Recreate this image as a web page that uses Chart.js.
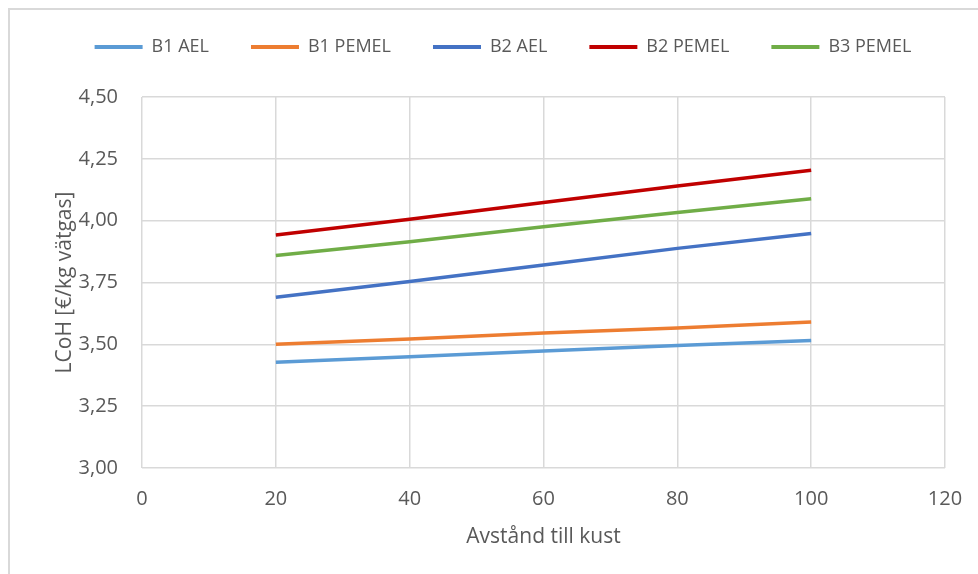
<!DOCTYPE html>
<html>
<head>
<meta charset="utf-8">
<script src="https://cdn.jsdelivr.net/npm/chart.js@4/dist/chart.umd.min.js"></script>
<style>
  html, body { margin: 0; padding: 0; background: #fff; }
  #wrap { position: relative; width: 978px; height: 574px; }
  #c { position: absolute; left: 0; top: 0; }
  #frame { position: absolute; left: 8px; top: 8px; right: 0; bottom: 0;
           border-left: 2px solid #d9d9d9; border-top: 2px solid #d9d9d9; pointer-events: none; }
</style>
</head>
<body>
<div id="wrap">
  <canvas id="c" width="978" height="574"></canvas>
  <div id="frame"></div>
</div>
<script>
const distances = [20, 40, 60, 80, 100];
const seriesNames = ["B1 AEL", "B1 PEMEL", "B2 AEL", "B2 PEMEL", "B3 PEMEL"];
const b1AEL   = [3.428, 3.450, 3.473, 3.495, 3.515];
const b1PEMEL = [3.500, 3.522, 3.546, 3.566, 3.590];
const b2AEL   = [3.690, 3.754, 3.821, 3.888, 3.948];
const b2PEMEL = [3.942, 4.006, 4.073, 4.140, 4.204];
const b3PEMEL = [3.859, 3.915, 3.975, 4.033, 4.089];
const xTicks = [0, 20, 40, 60, 80, 100, 120];
const yTicks = [3.00, 3.25, 3.50, 3.75, 4.00, 4.25, 4.50];
const colors = ["#5B9BD5", "#ED7D31", "#4472C4", "#C00000", "#70AD47"];
const xTitle = "Avstånd till kust";
const yTitle = "LCoH [€/kg vätgas]";

const allSeries = [b1AEL, b1PEMEL, b2AEL, b2PEMEL, b3PEMEL];
const datasets = allSeries.map((vals, i) => ({
  label: seriesNames[i],
  data: vals.map((v, j) => ({ x: distances[j], y: v })),
  borderColor: colors[i],
  backgroundColor: colors[i],
  borderWidth: 3.5,
  pointRadius: 0,
  tension: 0
}));

const FONT = "'Open Sans', 'Noto Sans', sans-serif";
const TXT = "#595959";
const GRID = "#d9d9d9";

const PLOT_LEFT = 142, PLOT_TOP = 97, PLOT_BOTTOM = 468;
const PAD_LEFT = 46, PAD_RIGHT = 33;
const LEG_PAD = 42, LEG_CENTER = 503;

const shiftLegend = {
  id: 'shiftLegend',
  afterLayout(chart) {
    const lg = chart.legend;
    lg.top -= 4;
    const lw = (lg.lineWidths && lg.lineWidths[0]) || 858;
    const start = LEG_CENTER - (lw - LEG_PAD) / 2;
    lg.right = 978;
    lg.left = 2 * start - LEG_PAD - lg.right + lw;
  }
};

const chart = new Chart(document.getElementById('c'), {
  type: 'line',
  data: { datasets },
  options: {
    responsive: false,
    animation: false,
    layout: { padding: { left: PAD_LEFT, right: PAD_RIGHT, top: 0, bottom: 0 } },
    plugins: {
      tooltip: { enabled: false },
      legend: {
        position: 'top',
        labels: {
          color: TXT,
          font: { family: FONT, size: 18 },
          boxWidth: 48,
          boxHeight: 4,
          padding: LEG_PAD,
          generateLabels: (ch) => Chart.defaults.plugins.legend.labels.generateLabels(ch)
            .map(l => Object.assign(l, { lineWidth: 0, fillStyle: l.strokeStyle }))
        }
      }
    },
    scales: {
      x: {
        type: 'linear',
        min: 0, max: 120,
        afterBuildTicks: (s) => { s.ticks = xTicks.map(v => ({ value: v })); },
        afterFit: (s) => { s.height = 574 - PLOT_BOTTOM; s.paddingRight = 0; s.paddingLeft = 0; },
        border: { display: false },
        grid: { color: GRID, lineWidth: 1.5, drawTicks: false },
        ticks: { color: TXT, font: { family: FONT, size: 20 }, padding: 19, maxRotation: 0 },
        title: { display: true, text: xTitle, color: TXT, font: { family: FONT, size: 21 },
                 padding: { top: 0, bottom: 24 } }
      },
      y: {
        type: 'linear',
        min: 3, max: 4.5,
        afterBuildTicks: (s) => { s.ticks = yTicks.map(v => ({ value: v })); },
        afterFit: (s) => { s.width = PLOT_LEFT - PAD_LEFT; },
        border: { display: false },
        grid: { color: GRID, lineWidth: 1.5, drawTicks: false },
        ticks: { color: TXT, font: { family: FONT, size: 20 }, padding: 24,
                 callback: (v) => Number(v).toFixed(2).replace('.', ',') },
        title: { display: true, text: yTitle, color: TXT, font: { family: FONT, size: 21 },
                 padding: { top: 6, bottom: 0 } }
      }
    }
  },
  plugins: [shiftLegend]
});

const lg = chart.legend;
const origFit = lg.fit.bind(lg);
lg.fit = function () { this.maxWidth = 2000; origFit(); this.height = PLOT_TOP; };
chart.update();
</script>
</body>
</html>
